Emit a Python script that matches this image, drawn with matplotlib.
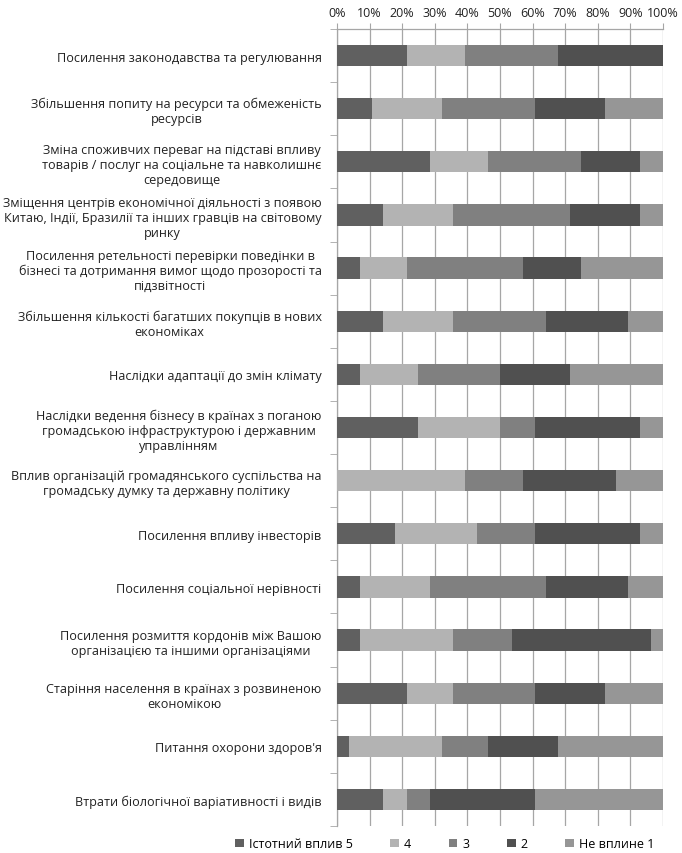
import matplotlib
matplotlib.use("Agg")
import matplotlib.pyplot as plt
import numpy as np

plt.rcParams['font.family'] = ['Open Sans', 'DejaVu Sans']

# categories, top to bottom
categories = [
    "Посилення законодавства та регулювання",
    "Збільшення попиту на ресурси та обмеженість\nресурсів",
    "Зміна споживчих переваг на підставі впливу\nтоварів / послуг на соціальне та навколишнє\nсередовище",
    "Зміщення центрів економічної діяльності з появою\nКитаю, Індії, Бразилії та інших гравців на світовому\nринку",
    "Посилення ретельності перевірки поведінки в\nбізнесі та дотримання вимог щодо прозорості та\nпідзвітності",
    "Збільшення кількості багатших покупців в нових\nекономіках",
    "Наслідки адаптації до змін клімату",
    "Наслідки ведення бізнесу в країнах з поганою\nгромадською інфраструктурою і державним\nуправлінням",
    "Вплив організацій громадянського суспільства на\nгромадську думку та державну політику",
    "Посилення впливу інвесторів",
    "Посилення соціальної нерівності",
    "Посилення розмиття кордонів між Вашою\nорганізацією та іншими організаціями",
    "Старіння населення в країнах з розвиненою\nекономікою",
    "Питання охорони здоров'я",
    "Втрати біологічної варіативності і видів",
]

series_names = ["Істотний вплив 5", "4", "3", "2", "Не вплине 1"]

# number of answers per category
s5 = [6, 3, 8, 4, 2, 4, 2, 7, 0, 5, 2, 2, 6, 1, 4]
s4 = [5, 6, 5, 6, 4, 6, 5, 7, 11, 7, 6, 8, 4, 8, 2]
s3 = [8, 8, 8, 10, 10, 8, 7, 3, 5, 5, 10, 5, 7, 4, 2]
s2 = [9, 6, 5, 6, 5, 7, 6, 9, 8, 9, 7, 12, 6, 6, 9]
s1 = [0, 5, 2, 2, 7, 3, 8, 2, 4, 2, 3, 1, 5, 9, 11]

colors = ["#606060", "#b3b3b3", "#808080", "#505050", "#969696"]

data = np.array([s5, s4, s3, s2, s1], dtype=float)
pct = data / data.sum(axis=0) * 100

fig = plt.figure(figsize=(6.82, 8.54), dpi=100)
ax = fig.add_axes([0.494, 0.0316, 0.478, 0.9333])

y = np.arange(len(categories))
left = np.zeros(len(categories))
for vals, name, col in zip(pct, series_names, colors):
    ax.barh(y, vals, left=left, height=0.4, color=col, label=name, zorder=3)
    left += vals

ax.set_xlim(0, 100)
ax.set_ylim(len(categories) - 0.5, -0.5)
ax.set_xticks(np.arange(0, 101, 10))
ax.set_xticklabels([f"{v}%" for v in range(0, 101, 10)])
ax.xaxis.tick_top()
ax.grid(axis='x', color='#a6a6a6', linewidth=0.9, zorder=0)
ax.tick_params(axis='x', length=4, color='#a6a6a6', labelsize=9,
               labelcolor='#222222', pad=3)

ax.set_yticks(y)
ax.set_yticklabels(categories)
ax.set_yticks(np.arange(-0.5, len(categories), 1), minor=True)
ax.tick_params(axis='y', which='major', length=0, pad=11, labelsize=9.1,
               labelcolor='#222222')
ax.tick_params(axis='y', which='minor', length=5, color='#a6a6a6')
for lbl in ax.get_yticklabels():
    lbl.set_multialignment('center')

for side in ['right', 'bottom']:
    ax.spines[side].set_visible(False)
for side in ['left', 'top']:
    ax.spines[side].set_color('#a6a6a6')
    ax.spines[side].set_linewidth(0.9)

fig.legend(loc='lower center', bbox_to_anchor=(0.652, -0.01), ncol=5,
           frameon=False, fontsize=9, handlelength=0.7, handleheight=0.7,
           handletextpad=0.4, columnspacing=3.0)

fig.savefig("out.png", dpi=100)
